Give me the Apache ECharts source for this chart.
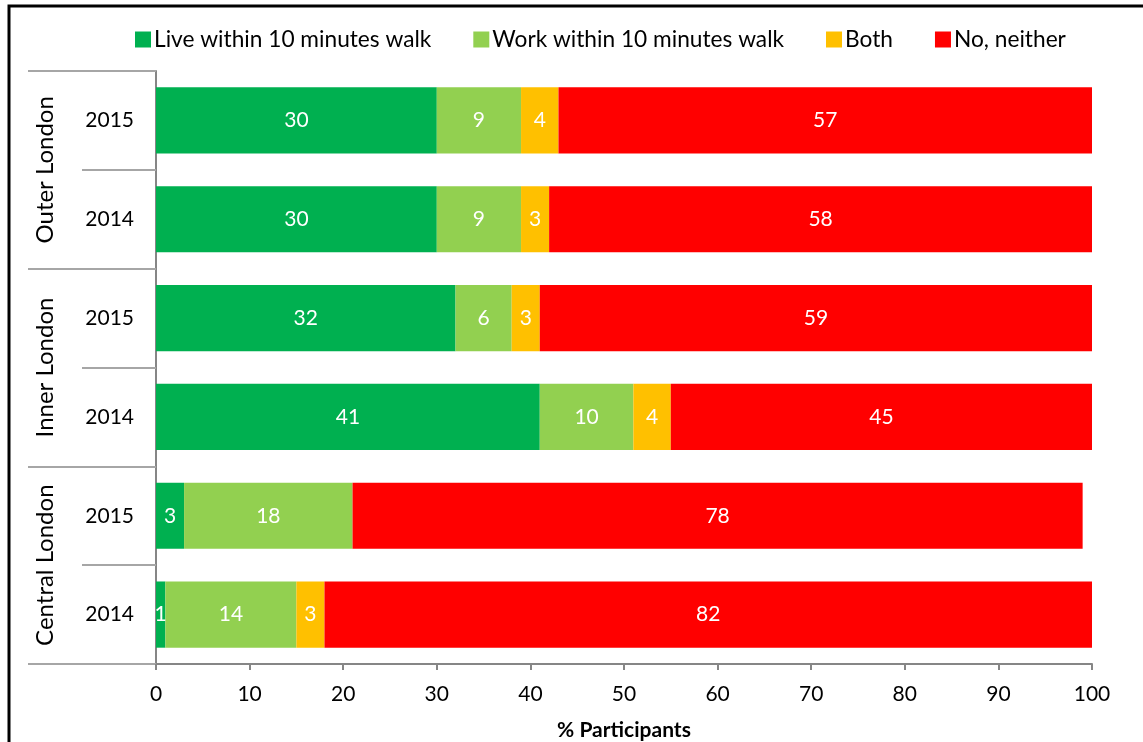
<!DOCTYPE html>
<html>
<head>
<meta charset="utf-8">
<script src="https://cdn.jsdelivr.net/npm/echarts@6/dist/echarts.min.js"></script>
<style>
  html, body { margin: 0; padding: 0; background: #fff; }
  #chart { width: 1143px; height: 742px; }
</style>
</head>
<body>
<div id="chart"></div>
<script>
// Area groups and survey years (rows top to bottom)
const groups = ['Outer London', 'Inner London', 'Central London'];
const years = ['2015', '2014', '2015', '2014', '2015', '2014'];
const rowGroup = [0, 0, 1, 1, 2, 2];

// Share of participants (%) by answer
const seriesNames = ['Live within 10 minutes walk', 'Work within 10 minutes walk', 'Both', 'No, neither'];
const live    = [30, 30, 32, 41, 3, 1];
const work    = [9, 9, 6, 10, 18, 14];
const both    = [4, 3, 3, 4, 0, 3];
const neither = [57, 58, 59, 45, 78, 82];

const xTicks = [0, 10, 20, 30, 40, 50, 60, 70, 80, 90, 100];

const colors = ['#00B050', '#92D050', '#FFC000', '#FF0000'];
const FONT = 'Lato';

// unique row keys so repeated years stay separate categories
const rowKeys = years.map((y, i) => groups[rowGroup[i]] + '|' + y);

const chart = echarts.init(document.getElementById('chart'));

const makeSeries = (name, values, color) => ({
  name: name,
  type: 'bar',
  stack: 'total',
  yAxisIndex: 0,
  barCategoryGap: '33%',
  itemStyle: { color: color },
  label: {
    show: true,
    position: 'inside',
    color: '#fff',
    fontFamily: FONT,
    fontSize: 21,
    formatter: p => (p.value ? String(p.value) : '')
  },
  emphasis: { disabled: true },
  data: values
});

chart.setOption({
  animation: false,
  textStyle: { fontFamily: FONT },
  color: colors,
  graphic: [{
    type: 'polyline',
    shape: { points: [[9, 742], [9, 6], [1143, 6]] },
    style: { stroke: '#000', lineWidth: 3, fill: null }
  }],
  legend: {
    left: 130,
    top: 23,
    itemWidth: 16,
    itemHeight: 16,
    itemGap: 42,
    icon: 'rect',
    textStyle: { color: '#000', fontSize: 22.7, fontFamily: FONT, padding: [0, 0, 0, -2] },
    data: seriesNames
  },
  grid: { left: 156, right: 51, top: 71, bottom: 78, containLabel: false, outerBoundsMode: 'none' },
  xAxis: {
    type: 'value',
    min: xTicks[0],
    max: xTicks[xTicks.length - 1],
    interval: xTicks[1] - xTicks[0],
    name: '% Participants',
    nameLocation: 'middle',
    nameGap: 56,
    nameTextStyle: { color: '#000', fontSize: 21, fontWeight: 'bold', fontFamily: FONT },
    axisLine: { show: true, lineStyle: { color: '#868686', width: 2 } },
    axisTick: { show: true, length: 6, lineStyle: { color: '#868686', width: 2 } },
    axisLabel: { color: '#000', fontSize: 21, fontFamily: FONT, margin: 20 },
    splitLine: { show: false }
  },
  yAxis: [{
    type: 'category',
    inverse: true,
    data: rowKeys,
    axisLine: { show: true, lineStyle: { color: '#868686', width: 2 } },
    axisTick: { show: true, interval: 0, length: 74, lineStyle: { color: '#A6A6A6', width: 2 } },
    axisLabel: {
      color: '#000', fontSize: 21, fontFamily: FONT, margin: 22, interval: 0,
      formatter: v => v.split('|')[1]
    }
  }, {
    type: 'category',
    inverse: true,
    position: 'left',
    data: groups,
    axisLine: { show: false },
    axisTick: { show: true, interval: 0, length: 128, lineStyle: { color: '#A6A6A6', width: 2 } },
    axisLabel: {
      color: '#000', fontSize: 24, fontFamily: FONT, interval: 0, hideOverlap: false,
      rotate: 90, margin: 111, align: 'center', verticalAlign: 'middle'
    }
  }],
  series: [
    makeSeries(seriesNames[0], live, colors[0]),
    makeSeries(seriesNames[1], work, colors[1]),
    makeSeries(seriesNames[2], both, colors[2]),
    makeSeries(seriesNames[3], neither, colors[3])
  ]
});
</script>
</body>
</html>
